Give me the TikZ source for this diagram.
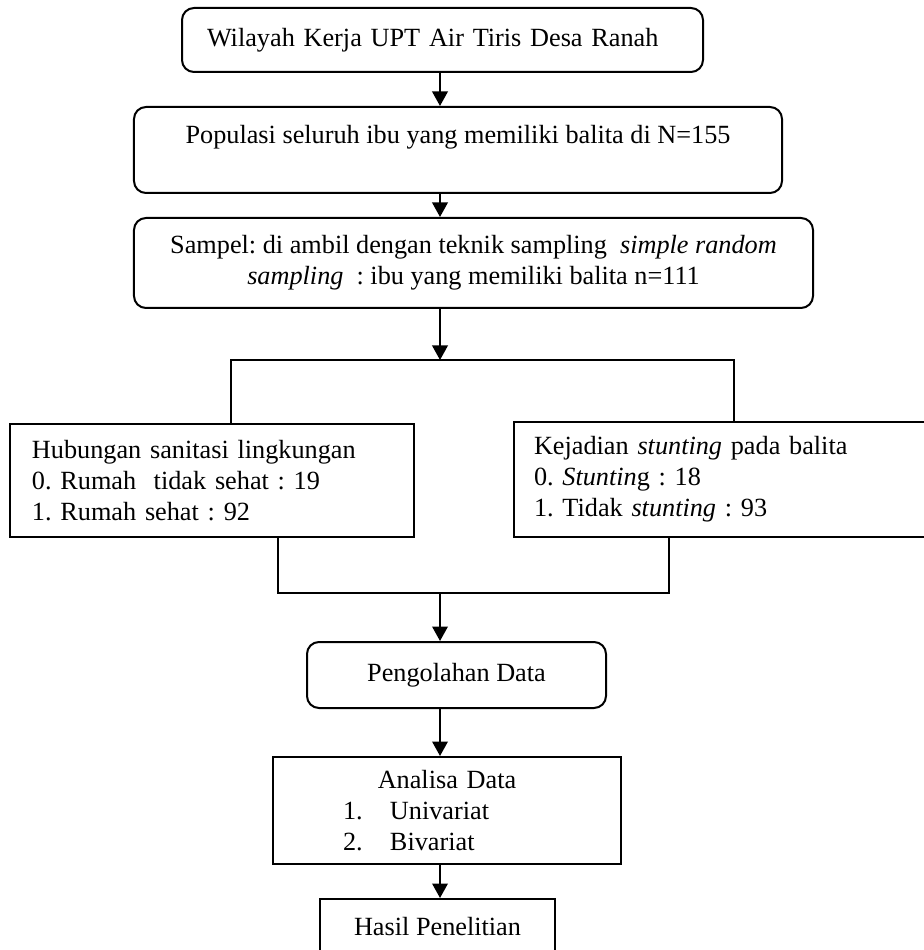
\documentclass[tikz,border=0pt]{standalone}
\usepackage{fontspec}
\setmainfont{Liberation Serif}
\usetikzlibrary{arrows.meta, positioning, calc}
\frenchspacing

\begin{document}
\begin{tikzpicture}[
  x=0.4pt, y=-0.4pt,
  font=\fontsize{10.5}{12.4}\selectfont,
  rbox/.style={draw, line width=0.8pt, rounded corners=4.8pt, align=center, inner sep=0pt},
  sbox/.style={draw, line width=0.8pt, align=center, inner sep=0pt},
  ar/.style={line width=0.8pt, -{Triangle[length=5.8pt, width=6.2pt]}},
  ln/.style={line width=0.8pt},
]
\useasboundingbox (0,0) rectangle (923,950);

\node[rbox, minimum width=208.4pt, minimum height=25.6pt, text width=188.4pt, align=left,
      inner xsep=10pt] (wil) at (442.5,40) {Wilayah Kerja UPT Air Tiris Desa Ranah};
\node[rbox, minimum width=259.2pt, minimum height=34.4pt] (pop) at (458,150)
  {Populasi seluruh ibu yang memiliki balita di N=155\\[-4pt] \strut};
\node[rbox, minimum width=271.6pt, minimum height=36pt] (sam) at (473.5,263)
  {Sampel: di ambil dengan teknik sampling \ \textit{simple random}\\ \textit{sampling} \ : ibu yang memiliki balita n=111};

\node[sbox, minimum height=45.2pt, text width=144pt, align=left, inner xsep=8.8pt] (sani) at (212,480.5)
  {Hubungan sanitasi lingkungan\\ 0. Rumah \ tidak sehat : 19\\ 1. Rumah sehat : 92};
\node[sbox, minimum height=46pt, text width=152.4pt, align=left, inner xsep=8pt] (stun) at (724.5,479.5)
  {Kejadian \textit{stunting} pada balita\\ 0. \textit{Stuntin}g : 18\\ 1. Tidak \textit{stunting} : 93};

\node[rbox, minimum width=119.6pt, minimum height=26.4pt] (olah) at (456.5,675) {Pengolahan Data};
\node[sbox, minimum height=42.8pt, text width=139.2pt, align=left] (anal) at (447,810.5)
  {\makebox[139.2pt]{Analisa Data}\\
   \hspace*{28pt}\makebox[18.8pt][l]{1.}Univariat\\
   \hspace*{28pt}\makebox[18.8pt][l]{2.}Bivariat};
\node[sbox, minimum width=94pt, minimum height=22.4pt] (hasil) at (437.5,927) {Hasil Penelitian};

% titik bantu untuk garis cabang
\coordinate (ax) at (440,0);
\coordinate (pisah) at (440,360);
\coordinate (pisahL) at (231,360);
\coordinate (pisahR) at (734,360);
\coordinate (gab) at (440,593);
\coordinate (gabL) at (278,593);
\coordinate (gabR) at (669,593);

\foreach \a/\b in {wil/pop, pop/sam, olah/anal, anal/hasil}
  \draw[ar] (\a.south -| ax) -- (\b.north -| ax);
\draw[ar] (sam.south -| ax) -- (pisah);
\draw[ln] (sani.north -| pisahL) |- (pisahR) -- (stun.north -| pisahR);
\draw[ln] (sani.south -| gabL) |- (gabR) -- (stun.south -| gabR);
\draw[ar] (gab) -- (olah.north -| ax);
\end{tikzpicture}
\end{document}
